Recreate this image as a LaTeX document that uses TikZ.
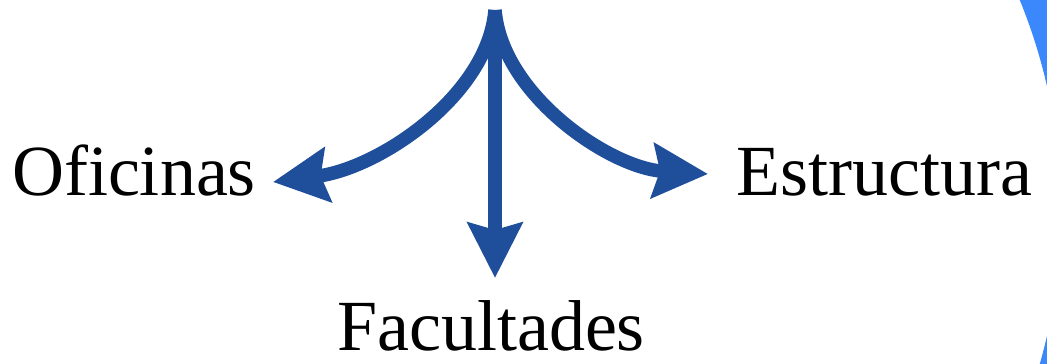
\documentclass[tikz,border=0pt]{standalone}
\usepackage{fontspec}
\setmainfont{Liberation Serif}
\usepackage{tikz}
\usetikzlibrary{
  arrows.meta,%
  calc,%
  positioning
}
\definecolor{arrowblue}{HTML}{1F4E9B}
\definecolor{ringblue}{HTML}{3B88FD}
\tikzset{>={Stealth[length=55pt, width=54pt, inset=7pt]}}
\tikzset{branch/.style={->, arrowblue, line width=13.5pt}}
\tikzset{word/.style={anchor=base, inner sep=0pt, font=\fontsize{72}{86}\selectfont}}

\begin{document}
\begin{tikzpicture}[x=1pt, y=-1pt]
          \useasboundingbox (0,0) rectangle (1047,364);
          % ring round the picture
          \begin{scope}
            \clip (0,0) rectangle (1047,364);
            \fill[ringblue, even odd rule] (-20,-20) rectangle (1067,384)
              (503,211) circle (558pt);
          \end{scope}
          \node[word] (ofi) at (134,195) {Oficinas};
          \node[word] (est) at (884,195) {Estructura};
          \node[word] (fac) at (491,350) {Facultades};
          \coordinate (top) at (495,10);
          \coordinate (ofitip) at (273,182);
          \coordinate (esttip) at (708,174);
          \coordinate (factip) at (495,278);
          \draw[branch] (top) .. controls (488,95) and (380,168) .. (ofitip);
          \draw[branch] (top) .. controls (502,95) and (610,168) .. (esttip);
          \draw[branch] (top) -- (factip);
        \end{tikzpicture}
\end{document}
